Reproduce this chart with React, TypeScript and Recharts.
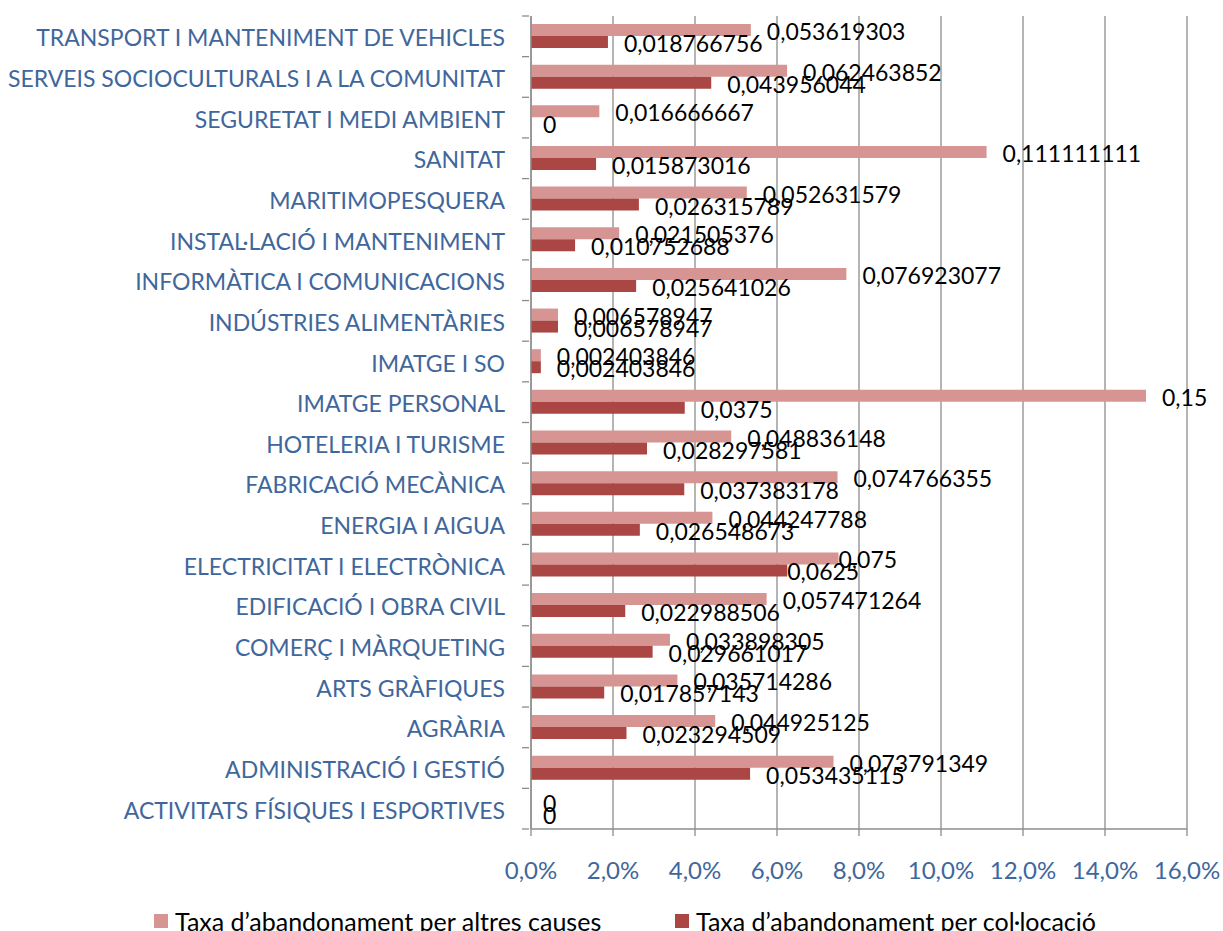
import React from "react";
import {
  BarChart,
  Bar,
  XAxis,
  YAxis,
  CartesianGrid,
  LabelList,
} from "recharts";

// ── Data ──────────────────────────────────────────────────────────

const CATEGORIES = [
  "TRANSPORT I MANTENIMENT DE VEHICLES",
  "SERVEIS SOCIOCULTURALS I A LA COMUNITAT",
  "SEGURETAT I MEDI AMBIENT",
  "SANITAT",
  "MARITIMOPESQUERA",
  "INSTAL·LACIÓ I MANTENIMENT",
  "INFORMÀTICA I COMUNICACIONS",
  "INDÚSTRIES ALIMENTÀRIES",
  "IMATGE I SO",
  "IMATGE PERSONAL",
  "HOTELERIA I TURISME",
  "FABRICACIÓ MECÀNICA",
  "ENERGIA I AIGUA",
  "ELECTRICITAT I ELECTRÒNICA",
  "EDIFICACIÓ I OBRA CIVIL",
  "COMERÇ I MÀRQUETING",
  "ARTS GRÀFIQUES",
  "AGRÀRIA",
  "ADMINISTRACIÓ I GESTIÓ",
  "ACTIVITATS FÍSIQUES I ESPORTIVES",
];

const ALTRES_CAUSES = [
  0.053619303, 0.062463852, 0.016666667, 0.111111111, 0.052631579,
  0.021505376, 0.076923077, 0.006578947, 0.002403846, 0.15, 0.048836148,
  0.074766355, 0.044247788, 0.075, 0.057471264, 0.033898305, 0.035714286,
  0.044925125, 0.073791349, 0,
];

const COL_LOCACIO = [
  0.018766756, 0.043956044, 0, 0.015873016, 0.026315789, 0.010752688,
  0.025641026, 0.006578947, 0.002403846, 0.0375, 0.028297581, 0.037383178,
  0.026548673, 0.0625, 0.022988506, 0.029661017, 0.017857143, 0.023294509,
  0.053435115, 0,
];

const X_TICKS = [0, 0.02, 0.04, 0.06, 0.08, 0.1, 0.12, 0.14, 0.16];

const SERIES_NAMES = [
  "Taxa d’abandonament per altres causes",
  "Taxa d’abandonament per col·locació",
];

// ── Style ─────────────────────────────────────────────────────────

const PINK = "#D69593";
const DARK = "#AA4643";
const BLUE = "#3F679C";
const GRID = "#8C8C8C";
const FONT = "Lato, 'Open Sans', sans-serif";

const W = 1223;
const H = 931;
const PLOT_TOP = 16;
const PLOT_BOTTOM = 829;
const BAND = (PLOT_BOTTOM - PLOT_TOP) / CATEGORIES.length;

const chartData = CATEGORIES.map((name, i) => ({
  name,
  altres: ALTRES_CAUSES[i],
  col: COL_LOCACIO[i],
}));

const fmtValue = (v: number) => String(v).replace(".", ",");
const fmtPct = (v: number) => (v * 100).toFixed(1).replace(".", ",") + "%";

// these labels sit back on the bar ends in the original
const NUDGED = new Set(["ELECTRICITAT I ELECTRÒNICA"]);

function ValueLabel(props: any) {
  const { x, y, width, height, value, index } = props;
  const name = CATEGORIES[index];
  const w = Math.max(0, Number(width));
  const dx = NUDGED.has(name) ? 0 : w < 1 ? 12 : 16;
  return (
    <text
      x={Number(x) + w + dx}
      y={Number(y) + Number(height) / 2 + 1}
      dominantBaseline="central"
      fill="#000"
      fontSize={23}
      fontFamily={FONT}
    >
      {fmtValue(value)}
    </text>
  );
}

function CategoryTick(props: any) {
  const { x, y, payload, index } = props;
  const axisX = Number(x) + 8;
  return (
    <g>
      <line x1={axisX - 7} x2={axisX} y1={y - BAND / 2} y2={y - BAND / 2} stroke={GRID} strokeWidth={1.3} />
      {index === CATEGORIES.length - 1 && (
        <line x1={axisX - 7} x2={axisX} y1={y + BAND / 2} y2={y + BAND / 2} stroke={GRID} strokeWidth={1.3} />
      )}
      <text
        x={axisX - 24}
        y={y + 1}
        textAnchor="end"
        dominantBaseline="central"
        fill={BLUE}
        fontSize={23}
        fontFamily={FONT}
      >
        {payload.value}
      </text>
    </g>
  );
}

// keep zero bars in the layout so their "0" labels get drawn
const zeroMin = (v: any) => (Number(v) === 0 ? 0.01 : 0);

export default function App() {
  return (
    <div style={{ position: "absolute", left: 0, top: 0, width: W, height: H, background: "#fff", overflow: "hidden" }}>
      <BarChart
        width={W}
        height={H}
        data={chartData}
        layout="vertical"
        margin={{ top: PLOT_TOP, right: 36, left: 0, bottom: H - PLOT_BOTTOM - 50 }}
        barGap={0}
        barSize={12}
      >
        <CartesianGrid horizontal={false} stroke={GRID} strokeWidth={1.3} />
        <XAxis
          type="number"
          domain={[0, 0.16]}
          ticks={X_TICKS}
          tickFormatter={fmtPct}
          axisLine={{ stroke: GRID, strokeWidth: 1.3 }}
          tickLine={{ stroke: GRID, strokeWidth: 1.3 }}
          tickSize={7}
          height={50}
          tick={{ fill: BLUE, fontSize: 24, fontFamily: FONT, dy: 24 }}
          allowDataOverflow
        />
        <YAxis
          type="category"
          dataKey="name"
          width={531}
          axisLine={{ stroke: GRID, strokeWidth: 1.3 }}
          tickLine={false}
          tickSize={8}
          interval={0}
          tick={<CategoryTick />}
        />
        <Bar dataKey="altres" fill={PINK} isAnimationActive={false} minPointSize={zeroMin}>
          <LabelList dataKey="altres" content={<ValueLabel />} />
        </Bar>
        <Bar dataKey="col" fill={DARK} isAnimationActive={false} minPointSize={zeroMin}>
          <LabelList dataKey="col" content={<ValueLabel />} />
        </Bar>
      </BarChart>
      {/* Legend (sits at the very bottom edge, as in the original) */}
      <div
        style={{
          position: "absolute",
          top: 906,
          left: 154,
          display: "flex",
          fontFamily: FONT,
          fontSize: 25,
          lineHeight: "30px",
          color: "#000",
        }}
      >
        {SERIES_NAMES.map((n, i) => (
          <div key={n} style={{ display: "flex", alignItems: "center", width: 521 }}>
            <span
              style={{
                display: "inline-block",
                width: 14,
                height: 14,
                background: i === 0 ? PINK : DARK,
                marginRight: 7,
              }}
            />
            <span>{n}</span>
          </div>
        ))}
      </div>
    </div>
  );
}
